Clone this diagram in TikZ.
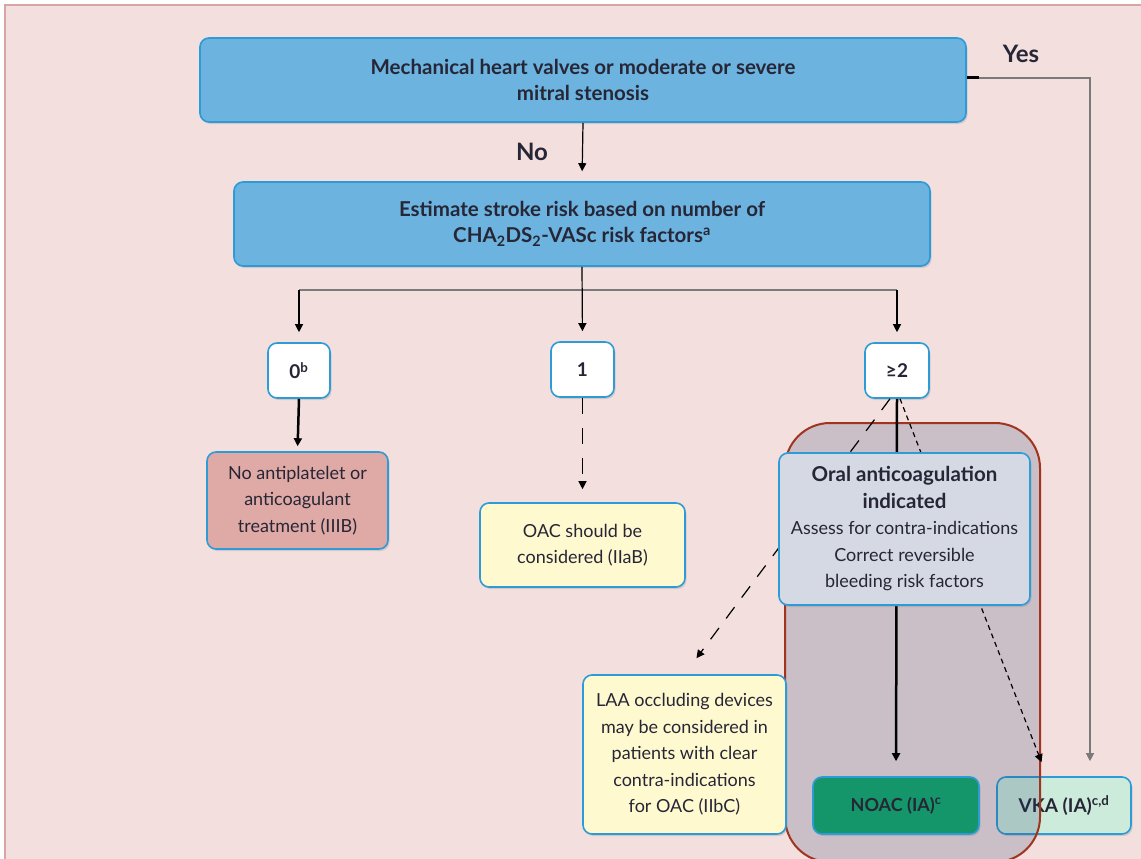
\documentclass[tikz,border=0pt]{standalone}
\usepackage{fontspec}
\setmainfont{Lato}
\usetikzlibrary{arrows.meta,shadows}
\definecolor{bgpink}{HTML}{F3DFDE}
\definecolor{bgline}{HTML}{D8A4A6}
\definecolor{boxblue}{HTML}{6CB3DF}
\definecolor{bordblue}{HTML}{2C9BD6}
\definecolor{rosefill}{HTML}{DFA9A6}
\definecolor{yellowfill}{HTML}{FFF9CF}
\definecolor{oralfill}{HTML}{D5D9E3}
\definecolor{noacfill}{HTML}{14966A}
\definecolor{vkafill}{HTML}{CDEBDB}
\definecolor{regionline}{HTML}{A0341E}
\definecolor{regionfill}{HTML}{283C6E}
\definecolor{txt}{HTML}{262636}
\definecolor{graylink}{HTML}{7A7A7A}
\newcommand\oralbf[1]{{\fontsize{20.5}{26.5}\selectfont\bfseries #1}}
\begin{document}
\begin{tikzpicture}[x=1pt,y=-1pt,
  every node/.style={text=txt},
  box/.style={draw=bordblue,line width=1.6pt,rounded corners=9pt,align=center,inner sep=0pt,
    drop shadow={opacity=0.25,shadow xshift=1.5pt,shadow yshift=-2pt}},
  bluebox/.style={box,fill=boxblue,font=\fontsize{20.5}{26}\selectfont\bfseries},
  smallbox/.style={box,fill=white,minimum width=62pt,minimum height=55pt,font=\fontsize{19}{22}\selectfont\bfseries},
  txtbox/.style={box,font=\fontsize{18}{26.5}\selectfont},
  arr/.style={-{Triangle[length=8pt,width=8pt]},line width=1.2pt,black},
  lbl/.style={font=\fontsize{24}{28}\selectfont\bfseries}
]
\clip (0,0) rectangle (1141,859);
\useasboundingbox (0,0) rectangle (1141,859);
\fill[white] (0,0) rectangle (1141,859);
\fill[bgpink] (5,5) rectangle (1160,880);
\draw[bgline,line width=1.5pt] (5,880) -- (5,5) -- (1160,5);

% VKA box below the region
\node[box,fill=vkafill,minimum width=134pt,minimum height=57pt,font=\fontsize{19}{22}\selectfont\bfseries] (vka) at (1064,805.5) {VKA (IA)\textsuperscript{c,d}};

% highlighted region
\fill[regionfill,opacity=0.2,rounded corners=45pt] (785,423) rectangle (1040,862);
\draw[regionline,line width=2pt,rounded corners=45pt] (785,423) rectangle (1040,862);

% main boxes
\node[bluebox,minimum width=766pt,minimum height=84pt] (top) at (583,80)
  {Mechanical heart valves or moderate or severe\\mitral stenosis};
\node[bluebox,minimum width=696pt,minimum height=84pt] (est) at (582,224)
  {Estimate stroke risk based on number of\\CHA\textsubscript{2}DS\textsubscript{2}-VASc risk factors\textsuperscript{a}};

\node[smallbox] (z) at (299,370.5) {0\textsuperscript{b}};
\node[smallbox,minimum width=63pt] (one) at (582.5,369.5) {1};
\node[smallbox,minimum width=64pt] (ge) at (897,370.5) {≥2};

\node[lbl] (yes) at (1021,54) {Yes};
\node[lbl] (nolbl) at (532,152) {No};

\node[txtbox,fill=rosefill,minimum width=181pt,minimum height=97pt] (no) at (297.5,500.5)
  {No antiplatelet or\\anticoagulant\\treatment (IIIB)};
\node[txtbox,fill=yellowfill,minimum width=205pt,minimum height=84pt] (oac) at (582.5,545)
  {OAC should be\\considered (IIaB)};
\node[txtbox,fill=yellowfill,minimum width=203pt,minimum height=159pt] (laa) at (684.5,754.5)
  {LAA occluding devices\\may be considered in\\patients with clear\\contra-indications\\for OAC (IIbC)};
\node[box,fill=noacfill,minimum width=166pt,minimum height=57pt,font=\fontsize{18}{22}\selectfont\bfseries] (noac) at (896,805.5) {NOAC (IA)\textsuperscript{c}};

% connectors
\coordinate (yc) at (1090,78);
\draw[arr,graylink,line width=1.2pt,shorten >=15pt] (top.east |- yc) -- (yc) -- (yc |- vka.north);
\draw[black,line width=3pt] (top.east |- yc) -- ++(12,0);
\draw[arr,shorten >=10pt] (top.south) -- (est.north);
\coordinate (jn) at (582,290);
\draw[graylink,line width=1.3pt] (z.north |- jn) -- (ge.north |- jn);
\draw[arr,shorten >=10pt] (est.south) -- (one.north);
\draw[arr,shorten >=10pt] (z.north |- jn) -- (z.north);
\draw[arr,shorten >=10pt] (ge.north |- jn) -- (ge.north);

\draw[arr,line width=2.5pt,shorten >=5pt] (z.south) -- (no.north);
\draw[arr,dash pattern=on 16pt off 14pt,shorten >=13pt] (one.south) -- (oac.north);

\draw[arr,line width=2.5pt,shorten >=15pt] (ge.south) -- (noac.north);
\draw[arr,dash pattern=on 14pt off 12pt,shorten >=20pt] ([xshift=-7pt]ge.south) -- (laa.north);
\draw[arr,dash pattern=on 5pt off 4pt,shorten >=15pt] ([xshift=3pt]ge.south) -- ([xshift=-17pt]vka.north);

\node[txtbox,fill=oralfill,minimum width=251pt,minimum height=152pt] (oral) at (904.5,529)
  {\oralbf{Oral anticoagulation}\\\oralbf{indicated}\\Assess for contra-indications\\Correct reversible\\bleeding risk factors};
\end{tikzpicture}
\end{document}
